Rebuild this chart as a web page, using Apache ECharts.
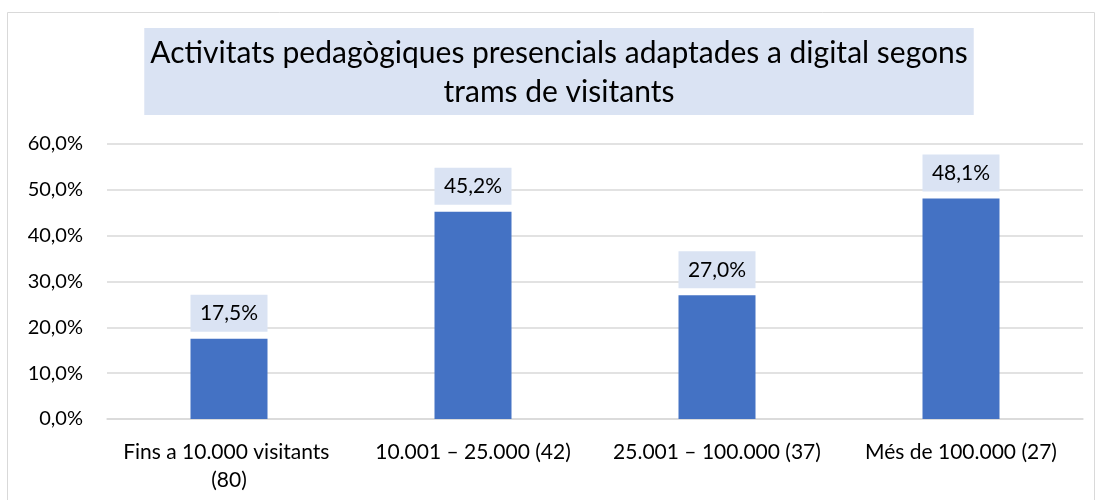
<!DOCTYPE html>
<html>
<head>
<meta charset="utf-8">
<script src="https://cdn.jsdelivr.net/npm/echarts@6/dist/echarts.min.js"></script>
<style>html,body{margin:0;padding:0;background:#fff}#c{width:1100px;height:500px}</style>
</head>
<body>
<div id="c"></div>
<script>
const titleText = "Activitats pedagògiques presencials adaptades a digital segons\ntrams de visitants";
const categories = ["Fins a 10.000 visitants (80)", "10.001 – 25.000 (42)", "25.001 – 100.000 (37)", "Més de 100.000 (27)"];
const values = [17.5, 45.2, 27.0, 48.1];
const yTicks = [0, 10, 20, 30, 40, 50, 60];

const fmt = v => v.toFixed(1).replace('.', ',') + '%';
const FONT = 'Lato';

const chart = echarts.init(document.getElementById('c'), null, {renderer: 'canvas'});
chart.setOption({
  animation: false,
  backgroundColor: '#fff',
  title: {
    text: titleText,
    left: 553,
    top: 28,
    textAlign: 'center',
    backgroundColor: '#DAE3F3',
    padding: [6, 6, 3, 6],
    textStyle: {fontFamily: FONT, fontSize: 30, fontWeight: 'normal', color: '#000', lineHeight: 39, align: 'center'}
  },
  graphic: [{
    type: 'rect', silent: true, z: -10,
    shape: {x: 7.5, y: 12.5, width: 1087, height: 500},
    style: {fill: null, stroke: '#d9d9d9', lineWidth: 1}
  }],
  grid: {left: 107, right: 17, top: 144, bottom: 81, containLabel: false},
  xAxis: {
    type: 'category',
    data: categories,
    axisLine: {show: true, lineStyle: {color: '#d9d9d9', width: 1.5}},
    axisTick: {show: false},
    axisLabel: {
      interval: 0, margin: 19, width: 230, overflow: 'break',
      fontFamily: FONT, fontSize: 21, color: '#000', lineHeight: 28
    }
  },
  yAxis: {
    type: 'value',
    min: yTicks[0], max: yTicks[yTicks.length - 1], interval: yTicks[1] - yTicks[0],
    axisLine: {show: false},
    axisTick: {show: false},
    splitLine: {lineStyle: {color: '#d9d9d9', width: 1.5}},
    axisLabel: {margin: 24, fontFamily: FONT, fontSize: 20, color: '#000', formatter: v => fmt(v)}
  },
  series: [{
    type: 'bar',
    data: values,
    barWidth: 77,
    itemStyle: {color: '#4472C4'},
    label: {
      show: true, position: 'top', distance: 7,
      formatter: p => fmt(p.value),
      backgroundColor: '#DAE3F3',
      width: 77, lineHeight: 37,
      align: 'center',
      fontFamily: FONT, fontSize: 21, color: '#000'
    }
  }]
});
</script>
</body>
</html>
